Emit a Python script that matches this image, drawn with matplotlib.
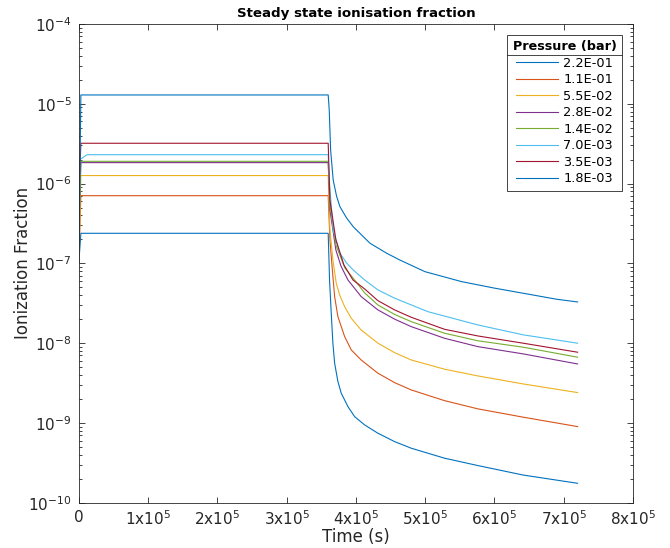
import matplotlib
matplotlib.use('Agg')
import matplotlib.pyplot as plt
from matplotlib.ticker import LogLocator, NullFormatter
from matplotlib.lines import Line2D

plt.rcParams['font.family'] = ['DejaVu Sans']
plt.rcParams['mathtext.default'] = 'regular'

# ---------------- data ----------------
pressures = ['2.2E-01', '1.1E-01', '5.5E-02', '2.8E-02',
             '1.4E-02', '7.0E-03', '3.5E-03', '1.8E-03']

t_p1 = [0, 3e3, 3.6e5, 3.62e5, 3.644e5, 3.668e5, 3.693e5, 3.74e5, 3.788e5,
        3.885e5, 3.981e5, 4.126e5, 4.317e5, 4.558e5, 4.798e5, 5.039e5,
        5.28e5, 5.76e5, 6.414e5, 7.2e5]
v_p1 = [1.0e-7, 2.38e-7, 2.38e-7, 6.0e-8, 2.37e-8, 9.97e-9, 5.6e-9, 3.3e-9,
        2.36e-9, 1.6e-9, 1.2e-9, 9.44e-10, 7.43e-10, 5.83e-10, 4.82e-10,
        4.17e-10, 3.61e-10, 2.92e-10, 2.22e-10, 1.75e-10]

t_p2 = [0, 3e3, 3.6e5, 3.625e5, 3.66e5, 3.693e5, 3.74e5, 3.837e5, 3.933e5,
        4.076e5, 4.317e5, 4.558e5, 4.798e5, 5.28e5, 5.76e5, 6.414e5, 7.2e5]
v_p2 = [1.0e-7, 7.05e-7, 7.05e-7, 1.97e-7, 8.26e-8, 3.83e-8, 2.15e-8, 1.21e-8,
        8.22e-9, 6.15e-9, 4.2e-9, 3.2e-9, 2.59e-9, 1.9e-9, 1.5e-9, 1.18e-9,
        8.99e-10]

t_p3 = [0, 3e3, 3.6e5, 3.625e5, 3.668e5, 3.716e5, 3.765e5, 3.837e5, 3.933e5,
        4.076e5, 4.317e5, 4.558e5, 4.798e5, 5.28e5, 5.76e5, 6.414e5, 7.2e5]
v_p3 = [1.0e-7, 1.26e-6, 1.26e-6, 2.62e-7, 1.1e-7, 5.64e-8, 4.02e-8, 2.87e-8,
        2.05e-8, 1.46e-8, 1.0e-8, 7.6e-9, 6.15e-9, 4.71e-9, 3.88e-9, 3.08e-9,
        2.40e-9]

t_p4 = [0, 3e3, 3.6e5, 3.625e5, 3.711e5, 3.784e5, 3.885e5, 4.076e5, 4.317e5,
        4.558e5, 4.798e5, 5.28e5, 5.76e5, 6.414e5, 7.2e5]
v_p4 = [2.4e-7, 1.83e-6, 1.83e-6, 4.67e-7, 1.47e-7, 9.27e-8, 6.19e-8, 3.83e-8,
        2.61e-8, 2.0e-8, 1.61e-8, 1.15e-8, 9.04e-9, 7.33e-9, 5.48e-9]

t_p5 = [0, 3e3, 3.6e5, 3.625e5, 3.711e5, 3.841e5, 3.981e5, 4.126e5, 4.317e5,
        4.558e5, 4.798e5, 5.28e5, 5.76e5, 6.414e5, 7.2e5]
v_p5 = [2.4e-7, 1.90e-6, 1.90e-6, 5.39e-7, 1.70e-7, 8.75e-8, 6.19e-8, 4.26e-8,
        3.01e-8, 2.29e-8, 1.86e-8, 1.33e-8, 1.07e-8, 8.89e-9, 6.66e-9]

t_p6 = [0, 1.5e3, 1.2e4, 3.6e5, 3.615e5, 3.672e5, 3.769e5, 3.865e5, 3.961e5,
        4.126e5, 4.317e5, 4.558e5, 5.039e5, 5.76e5, 6.414e5, 7.2e5]
v_p6 = [2.0e-7, 2.0e-6, 2.30e-6, 2.30e-6, 1.11e-6, 2.62e-7, 1.34e-7, 1.01e-7,
        8.26e-8, 6.19e-8, 4.65e-8, 3.66e-8, 2.48e-8, 1.69e-8, 1.27e-8, 9.98e-9]

t_p7 = [0, 3e3, 3.6e5, 3.625e5, 3.711e5, 3.827e5, 3.957e5, 4.126e5, 4.317e5,
        4.558e5, 4.798e5, 5.28e5, 5.76e5, 6.414e5, 7.2e5]
v_p7 = [6.0e-7, 3.2e-6, 3.2e-6, 6.22e-7, 1.97e-7, 9.55e-8, 6.19e-8, 4.78e-8,
        3.41e-8, 2.61e-8, 2.11e-8, 1.49e-8, 1.23e-8, 9.98e-9, 7.69e-9]

t_p8 = [0, 3e3, 3.6e5, 3.615e5, 3.635e5, 3.672e5, 3.72e5, 3.769e5, 3.865e5,
        3.961e5, 4.202e5, 4.443e5, 4.635e5, 4.996e5, 5.525e5, 6.006e5,
        6.414e5, 6.896e5, 7.2e5]
v_p8 = [1.0e-7, 1.29e-5, 1.29e-5, 8.36e-6, 2.64e-6, 1.11e-6, 7.0e-7, 5.14e-7,
        3.71e-7, 2.88e-7, 1.79e-7, 1.34e-7, 1.10e-7, 7.87e-8, 5.90e-8, 4.88e-8,
        4.22e-8, 3.55e-8, 3.28e-8]

x_ticks = [0, 1e5, 2e5, 3e5, 4e5, 5e5, 6e5, 7e5, 8e5]
x_tick_labels = ['0', '$1x10^{5}$', '$2x10^{5}$', '$3x10^{5}$', '$4x10^{5}$',
                 '$5x10^{5}$', '$6x10^{5}$', '$7x10^{5}$', '$8x10^{5}$']

colors = ['#0072BD', '#D95319', '#EDB120', '#7E2F8E',
          '#77AC30', '#4DBEEE', '#A2142F', '#0072BD']

series_t = [t_p1, t_p2, t_p3, t_p4, t_p5, t_p6, t_p7, t_p8]
series_v = [v_p1, v_p2, v_p3, v_p4, v_p5, v_p6, v_p7, v_p8]

# ---------------- figure ----------------
fig = plt.figure(figsize=(6.7, 5.48), dpi=100)
ax = fig.add_axes([0.1176, 0.0827, 0.8272, 0.8735])

for t, v, c, p in zip(series_t, series_v, colors, pressures):
    ax.plot(t, v, color=c, lw=0.8, label=p)

ax.set_yscale('log')
ax.set_ylim(1e-10, 1e-4)
ax.set_xlim(0, 8e5)
ax.set_xticks(x_ticks)
ax.set_xticklabels(x_tick_labels)
ax.yaxis.set_major_locator(LogLocator(base=10, numticks=20))
ax.yaxis.set_minor_locator(LogLocator(base=10, subs=range(2, 10), numticks=20))
ax.yaxis.set_minor_formatter(NullFormatter())

dark = '#262626'
for s in ax.spines.values():
    s.set_color(dark)
    s.set_linewidth(0.6)
ax.tick_params(which='both', direction='in', top=True, right=True,
               colors=dark, labelsize=11, width=0.6)
ax.tick_params(which='major', length=4, pad=5)
ax.tick_params(which='minor', length=2.5)

ax.set_xlabel('Time (s)', fontsize=12, color=dark, labelpad=0)
ax.set_ylabel('Ionization Fraction', fontsize=12, color=dark)
ax.yaxis.set_label_coords(-0.085, 0.5)
ax.set_title('Steady state ionisation fraction', fontsize=9.6,
             fontweight='bold', color='black', pad=5)

fs = 9.3
leg = ax.legend(loc='upper right', bbox_to_anchor=(0.9801, 0.977),
                borderaxespad=0, fancybox=False, framealpha=1,
                edgecolor=dark, fontsize=fs, handlelength=3.25,
                labelspacing=0.27, handletextpad=0.42, borderpad=0.42,
                title='Pressure (bar)',
                title_fontproperties={'weight': 'bold', 'size': 9.2})
leg.get_frame().set_linewidth(0.6)

fig.canvas.draw()
r = fig.canvas.get_renderer()
fb = leg.get_frame().get_window_extent(r)
tb = leg.get_title().get_window_extent(r)
yline = tb.y0 - 1.5
inv = fig.transFigure.inverted()
(x0, y0) = inv.transform((fb.x0, yline))
(x1, _) = inv.transform((fb.x1, yline))
fig.add_artist(Line2D([x0, x1], [y0, y0], transform=fig.transFigure,
                      color=dark, lw=0.6))

fig.savefig('out.png', dpi=100)
